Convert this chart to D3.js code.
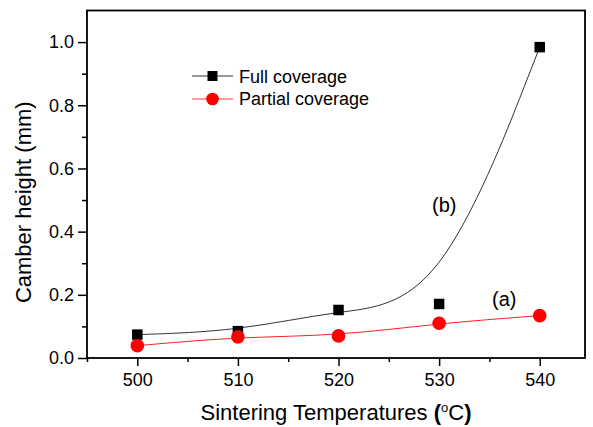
<!DOCTYPE html>
<html>
<head>
<meta charset="utf-8">
<script src="https://cdn.jsdelivr.net/npm/d3@7"></script>
<style>
  body { margin: 0; background: #fff; }
  svg { display: block; font-family: "Liberation Sans", Arial, sans-serif; }
</style>
</head>
<body>
<svg class="Chart"></svg>
<script>
// measured points
var temps = [500, 510, 520, 530, 540];
var fullCov = [0.074, 0.085, 0.152, 0.171, 0.984];
var partialCov = [0.039, 0.067, 0.070, 0.110, 0.134];

var xTicks = [500, 510, 520, 530, 540];
var xMinor = [495, 505, 515, 525, 535];
var yTicks = [0, 0.2, 0.4, 0.6, 0.8, 1.0];
var yMinor = [0.1, 0.3, 0.5, 0.7, 0.9];

var seriesNames = ["Full coverage", "Partial coverage"];

function drawChart(){
    let width = 593, height = 427;
    let margin = {top: 10.5, right: 8, bottom: 69, left: 87};
    let svg = d3.select(".Chart")
        .attr("width", width)
        .attr("height", height);

    let x = d3.scaleLinear().domain([495, 544.5]).range([margin.left, width - margin.right]);
    let y = d3.scaleLinear().domain([0, 1.1]).range([height - margin.bottom, margin.top]);

    // axes
    svg.append("g")
        .attr("transform", `translate(0,${y(0)})`)
        .call(d3.axisBottom(x).tickValues(xTicks).tickSize(8).tickSizeOuter(0).tickPadding(7));
    svg.append("g")
        .attr("transform", `translate(0,${y(0)})`)
        .call(d3.axisBottom(x).tickValues(xMinor).tickSize(4).tickSizeOuter(0).tickFormat(""));
    svg.append("g")
        .attr("transform", `translate(${x(495)},0)`)
        .call(d3.axisLeft(y).tickValues(yTicks).tickSize(9).tickSizeOuter(0).tickPadding(4)
            .tickFormat(d3.format(".1f")));
    svg.append("g")
        .attr("transform", `translate(${x(495)},0)`)
        .call(d3.axisLeft(y).tickValues(yMinor).tickSize(5).tickSizeOuter(0).tickFormat(""));

    svg.selectAll(".domain").remove();
    svg.selectAll(".tick line").attr("stroke", "#000").attr("stroke-width", 1.5);
    svg.selectAll(".tick text")
        .attr("font-size", 18)
        .attr("fill", "#000")
        .attr("font-family", "Liberation Sans, Arial, sans-serif");

    // frame
    svg.append("rect")
        .attr("x", x(495))
        .attr("y", y(1.1))
        .attr("width", x(544.5) - x(495))
        .attr("height", y(0) - y(1.1))
        .attr("fill", "none")
        .attr("stroke", "#000")
        .attr("stroke-width", 1.8);

    // B-spline connecting lines
    let line = d3.line()
        .x((d, i) => x(temps[i]))
        .y(d => y(d))
        .curve(d3.curveBasis);
    svg.append("path")
        .datum(fullCov)
        .attr("d", line)
        .attr("fill", "none")
        .attr("stroke", "#333")
        .attr("stroke-width", 1);
    svg.append("path")
        .datum(partialCov)
        .attr("d", line)
        .attr("fill", "none")
        .attr("stroke", "#ff2020")
        .attr("stroke-width", 1);

    // markers
    let sq = 10.5;
    svg.append("g").selectAll("rect")
        .data(fullCov)
        .join("rect")
        .attr("x", (d, i) => x(temps[i]) - sq / 2)
        .attr("y", d => y(d) - sq / 2)
        .attr("width", sq)
        .attr("height", sq)
        .attr("fill", "#000");
    svg.append("g").selectAll("circle")
        .data(partialCov)
        .join("circle")
        .attr("cx", (d, i) => x(temps[i]))
        .attr("cy", d => y(d))
        .attr("r", 6.8)
        .attr("fill", "#ff0000");

    // legend
    let lg = svg.append("g");
    lg.append("line").attr("x1", 192).attr("x2", 233).attr("y1", 76).attr("y2", 76)
        .attr("stroke", "#333").attr("stroke-width", 1);
    lg.append("rect").attr("x", 212.5 - 5).attr("y", 76 - 5).attr("width", 10).attr("height", 10).attr("fill", "#000");
    lg.append("line").attr("x1", 192).attr("x2", 233).attr("y1", 99).attr("y2", 99)
        .attr("stroke", "#ff9c9c").attr("stroke-width", 2);
    lg.append("circle").attr("cx", 212.5).attr("cy", 99).attr("r", 6.3).attr("fill", "#ff0000");
    lg.selectAll("text")
        .data(seriesNames)
        .join("text")
        .attr("x", 239)
        .attr("y", (d, i) => 82.5 + i * 22.5)
        .attr("font-size", 18)
        .text(d => d);

    // curve labels
    svg.append("text").attr("x", 432).attr("y", 212).attr("font-size", 20).text("(b)");
    svg.append("text").attr("x", 492).attr("y", 306).attr("font-size", 20).text("(a)");

    // axis titles
    let xt = svg.append("text")
        .attr("x", (x(495) + x(544.5)) / 2)
        .attr("y", 420)
        .attr("text-anchor", "middle")
        .attr("font-size", 22);
    xt.append("tspan").text("Sintering Temperatures ");
    xt.append("tspan").attr("font-weight", "bold").text("(");
    xt.append("tspan").attr("font-size", 13).attr("dy", -8).text("o");
    xt.append("tspan").attr("dy", 8).text("C");
    xt.append("tspan").attr("font-weight", "bold").text(")");

    svg.append("text")
        .attr("transform", `translate(31,${(y(0) + y(1.1)) / 2 + 18}) rotate(-90)`)
        .attr("text-anchor", "middle")
        .attr("font-size", 22)
        .text("Camber height (mm)");
}

drawChart();
</script>
</body>
</html>
